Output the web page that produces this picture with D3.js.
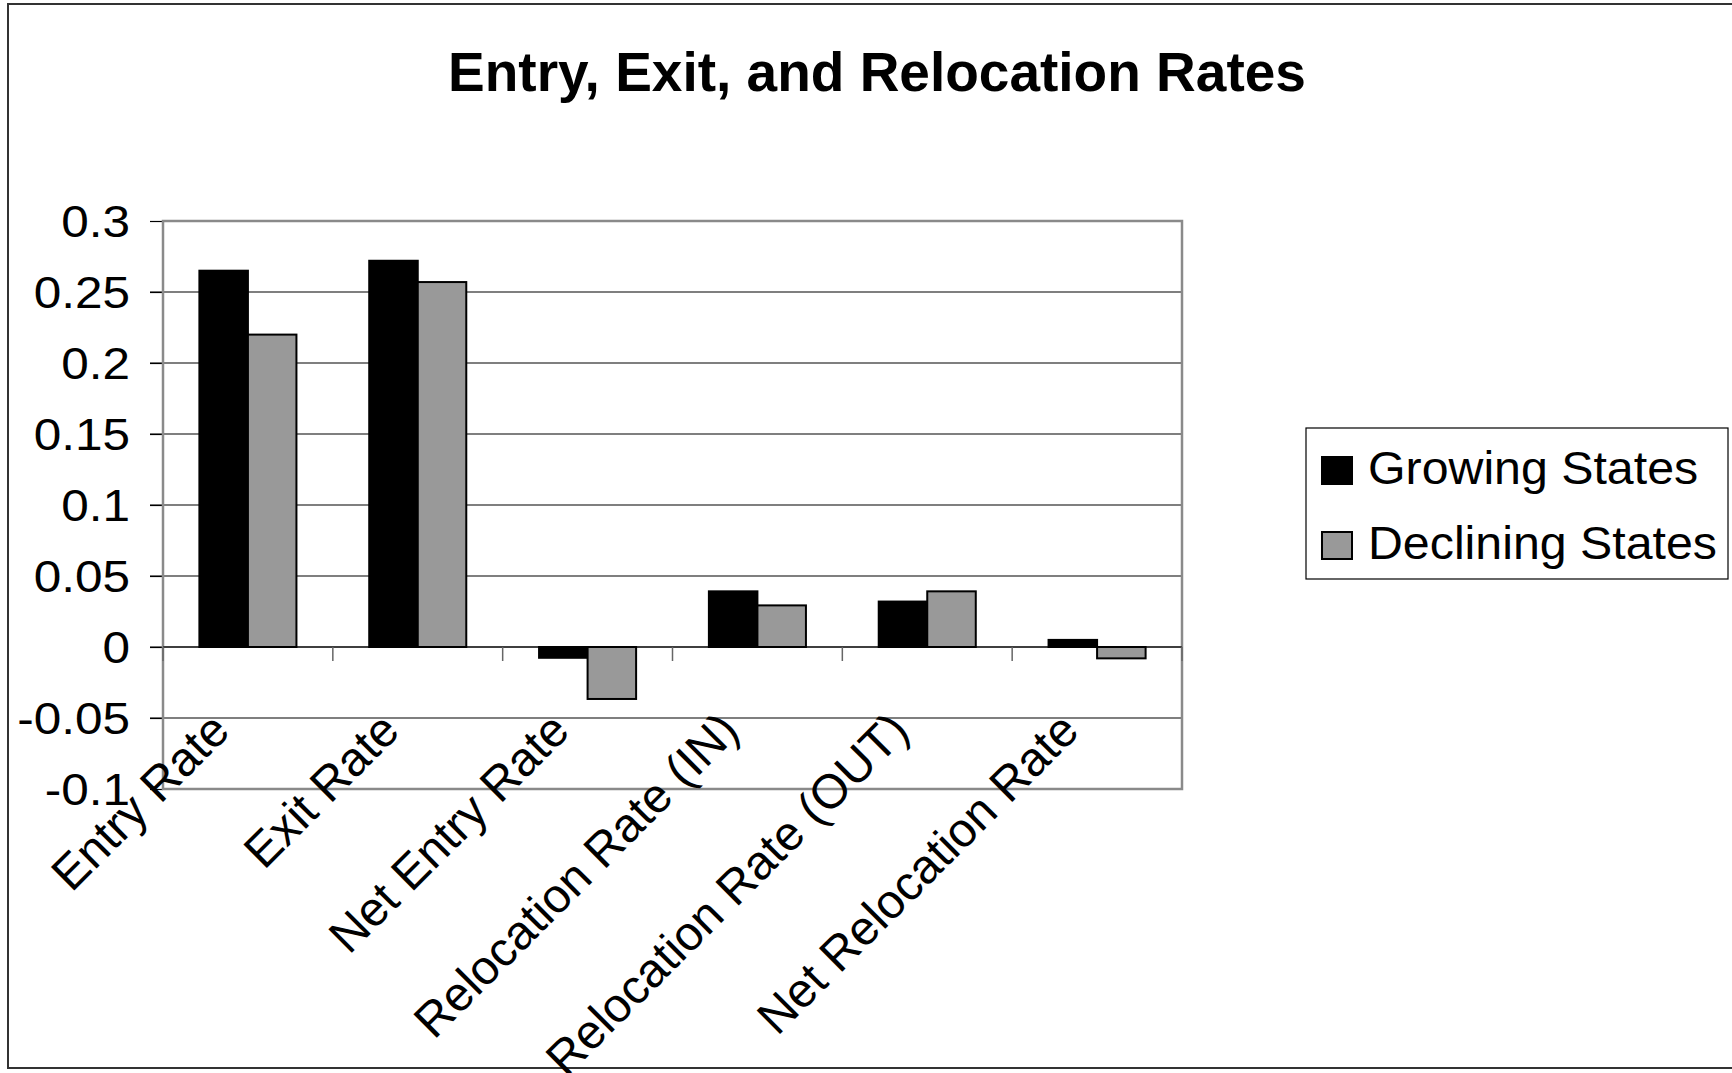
<!DOCTYPE html>
<html>
<head>
<meta charset="utf-8">
<script src="https://cdn.jsdelivr.net/npm/d3@7"></script>
<style>
  body { margin: 0; background: #fff; }
  text { font-family: "Liberation Sans", Arial, sans-serif; }
</style>
</head>
<body>
<script>
// Chart data
const categories = ["Entry Rate", "Exit Rate", "Net Entry Rate", "Relocation Rate (IN)", "Relocation Rate (OUT)", "Net Relocation Rate"];
const seriesNames = ["Growing States", "Declining States"];
const growing = [0.265, 0.272, -0.0076, 0.0392, 0.032, 0.005];
const declining = [0.220, 0.257, -0.0366, 0.0293, 0.0392, -0.008];
const yTicks = [-0.1, -0.05, 0, 0.05, 0.1, 0.15, 0.2, 0.25, 0.3];
const yTickLabels = ["-0.1", "-0.05", "0", "0.05", "0.1", "0.15", "0.2", "0.25", "0.3"];
const colors = ["#000000", "#999999"];

const width = 1732, height = 1073;
const plot = { left: 163, right: 1182, top: 221, bottom: 789 };

const svg = d3.select("body").append("svg")
    .attr("width", width)
    .attr("height", height);

// outer chart border
svg.append("rect")
    .attr("x", 8).attr("y", 4)
    .attr("width", 1740).attr("height", 1064)
    .attr("fill", "none")
    .attr("stroke", "#333")
    .attr("stroke-width", 2);

// title
svg.append("text")
    .attr("x", 877).attr("y", 91)
    .attr("text-anchor", "middle")
    .attr("font-size", 55)
    .attr("font-weight", "bold")
    .text("Entry, Exit, and Relocation Rates");

const y = d3.scaleLinear().domain([-0.1, 0.3]).range([plot.bottom, plot.top]);
const x0 = d3.scaleBand().domain(categories).range([plot.left, plot.right])
    .paddingInner(1.5 / 3.5).paddingOuter(0.75 / 3.5);
const x1 = d3.scaleBand().domain(seriesNames).range([0, x0.bandwidth()]);

// gridlines (with tick marks extending left)
svg.append("g")
    .selectAll("line")
    .data(yTicks.filter(d => d !== -0.1 && d !== 0.3))
    .enter().append("line")
    .attr("x1", plot.left - 13).attr("x2", plot.right)
    .attr("y1", d => y(d)).attr("y2", d => y(d))
    .attr("stroke", "#000")
    .attr("stroke-width", 1.2);

// y axis
const yAxis = d3.axisLeft(y)
    .tickValues(yTicks)
    .tickFormat((d, i) => yTickLabels[i])
    .tickSize(13)
    .tickPadding(24);
const yg = svg.append("g")
    .attr("transform", `translate(${plot.left},0)`)
    .call(yAxis);
yg.select(".domain").remove();
yg.selectAll(".tick line").attr("stroke", "#000").attr("stroke-width", 1.2);
// the original labels are a little wider than the font, stretch them
yg.selectAll(".tick text")
    .attr("x", 0)
    .attr("transform", "translate(-33,0) scale(1.1,1)")
    .attr("font-size", 45)
    .attr("font-family", "'Liberation Sans', Arial, sans-serif")
    .attr("fill", "#000")
    .attr("dy", "0.35em");

// plot border
svg.append("rect")
    .attr("x", plot.left).attr("y", plot.top)
    .attr("width", plot.right - plot.left).attr("height", plot.bottom - plot.top)
    .attr("fill", "none")
    .attr("stroke", "#8a8a8a")
    .attr("stroke-width", 2.5);

// bars
const rows = categories.map((c, i) => ({ cat: c, values: [growing[i], declining[i]] }));
svg.append("g")
    .selectAll("g")
    .data(rows)
    .enter().append("g")
    .attr("transform", d => `translate(${x0(d.cat)},0)`)
    .selectAll("rect")
    .data(d => d.values.map((v, j) => ({ key: seriesNames[j], v, j })))
    .enter().append("rect")
    .attr("x", d => x1(d.key))
    .attr("width", x1.bandwidth())
    .attr("y", d => y(Math.max(0, d.v)))
    .attr("height", d => Math.abs(y(d.v) - y(0)))
    .attr("fill", d => colors[d.j])
    .attr("stroke", "#000")
    .attr("stroke-width", 2);

// category axis at zero
const step = x0.step();
svg.append("line")
    .attr("x1", plot.left).attr("x2", plot.right)
    .attr("y1", y(0)).attr("y2", y(0))
    .attr("stroke", "#000").attr("stroke-width", 1.2);
svg.append("g")
    .selectAll("line")
    .data(d3.range(categories.length + 1))
    .enter().append("line")
    .attr("x1", i => plot.left + i * step).attr("x2", i => plot.left + i * step)
    .attr("y1", y(0)).attr("y2", y(0) + 14)
    .attr("stroke", "#666").attr("stroke-width", 1.5);

// rotated category labels
svg.append("g")
    .selectAll("text")
    .data(categories)
    .enter().append("text")
    .attr("transform", d => `translate(${x0(d) + x0.bandwidth() / 2 - 16},${y(0) + 86}) rotate(-45)`)
    .attr("text-anchor", "end")
    .attr("font-size", 48)
    .text(d => d);

// legend
const legend = svg.append("g");
legend.append("rect")
    .attr("x", 1306).attr("y", 428)
    .attr("width", 422).attr("height", 151)
    .attr("fill", "#fff")
    .attr("stroke", "#000")
    .attr("stroke-width", 1.2);
const items = legend.selectAll("g.item")
    .data(seriesNames)
    .enter().append("g")
    .attr("class", "item")
    .attr("transform", (d, i) => `translate(1322,${457 + i * 75})`);
items.append("rect")
    .attr("width", 30).attr("height", 27)
    .attr("fill", (d, i) => colors[i])
    .attr("stroke", "#000")
    .attr("stroke-width", 2);
items.append("text")
    .attr("transform", "translate(46,27) scale(1.05,1)")
    .attr("font-size", 46)
    .text(d => d);
</script>
</body>
</html>
